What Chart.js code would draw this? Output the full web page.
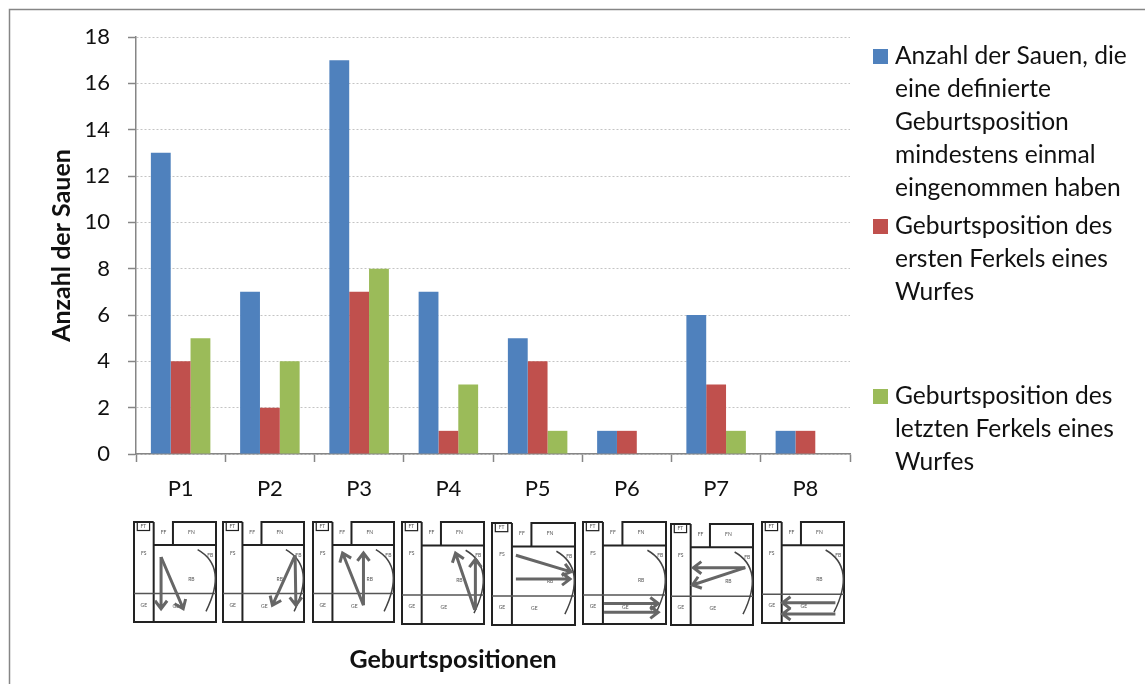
<!DOCTYPE html>
<html>
<head>
  <meta charset="UTF-8">
  <title>Geburtspositionen</title>
  <script src="https://cdn.jsdelivr.net/npm/chart.js@4"></script>
  <style>
    html, body { margin: 0; padding: 0; background: #fff; overflow: hidden; }
    canvas { display: block; }
  </style>
</head>
<body>
<canvas id="myChart" width="1145" height="684"></canvas>
<script>
  var categories = ["P1", "P2", "P3", "P4", "P5", "P6", "P7", "P8"];
  var sauenGesamt = [13, 7, 17, 7, 5, 1, 6, 1];
  var ersterFerkel = [4, 2, 7, 1, 4, 1, 3, 1];
  var letzterFerkel = [5, 4, 8, 3, 1, 0, 1, 0];

  var seriesNames = [
    "Anzahl der Sauen, die eine definierte Geburtsposition mindestens einmal eingenommen haben",
    "Geburtsposition des ersten Ferkels eines Wurfes",
    "Geburtsposition des letzten Ferkels eines Wurfes"
  ];
  var seriesColors = ["#4F81BD", "#C0504D", "#9BBB59"];

  // legend text wrapped by hand, one list per series, with the y of each line
  var legendLines = [
    ["Anzahl der Sauen, die", "eine definierte", "Geburtsposition", "mindestens einmal", "eingenommen haben"],
    ["Geburtsposition des", "ersten Ferkels eines", "Wurfes"],
    ["Geburtsposition des", "letzten Ferkels eines", "Wurfes"]
  ];
  var legendTops = [56, 226, 396];
  var legendStep = 33;

  // small floor plans under the axis: box in px, arrows as fractions of the box
  var planBoxes = [
    [134, 522, 82, 100], [223, 522, 81, 100], [313, 522, 81, 100], [402, 522, 82, 102],
    [492, 523, 83, 102], [583, 522, 83, 102], [671, 524, 82, 101], [762, 522, 82, 101]
  ];
  var planArrows = [
    [[.33, .35, .33, .867], [.33, .35, .60, .867]],
    [[.89, .333, .61, .833], [.89, .333, .90, .833]],
    [[.623, .833, .365, .31], [.623, .833, .623, .31]],
    [[.887, .86, .653, .306], [.895, .86, .895, .365]],
    [[.288, .316, .952, .479], [.288, .55, .94, .55]],
    [[.254, .80, .907, .80], [.254, .885, .907, .885]],
    [[.906, .432, .273, .432], [.906, .432, .261, .604]],
    [[.895, .80, .25, .80], [.895, .91, .25, .91]]
  ];
  var planLabels = [
    ["FT", .115, .04], ["FF", .36, .105], ["FN", .70, .105], ["FS", .12, .31], ["FB", .93, .33],
    ["RB", .70, .57], ["GE", .12, .83], ["GE", .51, .84]
  ];

  function drawArrow(ctx, x1, y1, x2, y2) {
    var a = Math.atan2(y2 - y1, x2 - x1);
    ctx.beginPath();
    ctx.moveTo(x1, y1);
    ctx.lineTo(x2, y2);
    ctx.moveTo(x2 - 10 * Math.cos(a - 0.65), y2 - 10 * Math.sin(a - 0.65));
    ctx.lineTo(x2, y2);
    ctx.lineTo(x2 - 10 * Math.cos(a + 0.65), y2 - 10 * Math.sin(a + 0.65));
    ctx.stroke();
  }

  function drawPlan(ctx, box, arrows) {
    var x = box[0], y = box[1], w = box[2], h = box[3];
    function px(f) { return x + f * w; }
    function py(f) { return y + f * h; }

    ctx.strokeStyle = "#222";
    ctx.lineWidth = 2;
    ctx.beginPath();
    ctx.moveTo(px(.24), y); ctx.lineTo(x, y); ctx.lineTo(x, y + h); ctx.lineTo(x + w, y + h);
    ctx.lineTo(x + w, py(.23)); ctx.lineTo(px(.24), py(.23));
    ctx.moveTo(px(.24), y); ctx.lineTo(px(.24), y + h);
    ctx.moveTo(px(.475), py(.23)); ctx.lineTo(px(.475), y); ctx.lineTo(x + w, y); ctx.lineTo(x + w, py(.23));
    ctx.stroke();

    ctx.lineWidth = 1.2;
    ctx.strokeRect(px(.04), y, w * .15, h * .085);

    ctx.strokeStyle = "#555";
    ctx.lineWidth = 1.5;
    ctx.beginPath();
    ctx.moveTo(x, py(.715)); ctx.lineTo(x + w, py(.715));
    ctx.stroke();

    ctx.strokeStyle = "#444";
    ctx.beginPath();
    ctx.moveTo(px(.776), py(.277));
    ctx.quadraticCurveTo(px(1.149), py(.45), px(.878), py(.893));
    ctx.stroke();

    ctx.fillStyle = "#555";
    ctx.font = "5px Lato";
    ctx.textAlign = "center";
    ctx.textBaseline = "middle";
    planLabels.forEach(function(l) { ctx.fillText(l[0], px(l[1]), py(l[2])); });

    ctx.strokeStyle = "#666";
    ctx.lineWidth = 3;
    arrows.forEach(function(a) { drawArrow(ctx, px(a[0]), py(a[1]), px(a[2]), py(a[3])); });
  }

  var extras = {
    id: "extras",
    afterDraw: function(chart) {
      var ctx = chart.ctx;
      ctx.save();

      // frame, runs off the page on the right and at the bottom
      ctx.strokeStyle = "#868686";
      ctx.lineWidth = 1.5;
      ctx.beginPath();
      ctx.moveTo(9.5, 684); ctx.lineTo(9.5, 9.5); ctx.lineTo(1145, 9.5);
      ctx.stroke();

      // legend
      ctx.textAlign = "left";
      ctx.textBaseline = "middle";
      ctx.font = "24.6px Lato";
      legendLines.forEach(function(lines, i) {
        ctx.fillStyle = seriesColors[i];
        ctx.fillRect(873, legendTops[i] - 7, 15, 15);
        ctx.fillStyle = "#111";
        lines.forEach(function(t, j) { ctx.fillText(t, 895, legendTops[i] + j * legendStep); });
      });

      // axis title sits left of the axis centre in the original
      ctx.font = "bold 25px Lato";
      ctx.textAlign = "center";
      ctx.fillStyle = "#111";
      ctx.fillText("Geburtspositionen", 453, 660);

      planBoxes.forEach(function(b, i) { drawPlan(ctx, b, planArrows[i]); });
      ctx.restore();
    }
  };

  new Chart(document.getElementById("myChart"), {
    type: "bar",
    plugins: [extras],
    data: {
      labels: categories,
      datasets: [
        { label: seriesNames[0], data: sauenGesamt, backgroundColor: seriesColors[0] },
        { label: seriesNames[1], data: ersterFerkel, backgroundColor: seriesColors[1] },
        { label: seriesNames[2], data: letzterFerkel, backgroundColor: seriesColors[2] }
      ]
    },
    options: {
      responsive: false,
      animation: false,
      layout: { padding: { left: 40, top: 37, right: 295, bottom: 0 } },
      datasets: { bar: { categoryPercentage: 2 / 3, barPercentage: 1 } },
      plugins: { legend: { display: false }, tooltip: { enabled: false } },
      scales: {
        x: {
          afterFit: function(s) { s.height = 230; },
          grid: { offset: true, drawOnChartArea: false, tickLength: 8, tickColor: "#868686", tickWidth: 1.5 },
          border: { color: "#868686", width: 1.5 },
          ticks: { color: "#111", padding: 14, maxRotation: 0, font: { family: "Lato", size: 22 } }
        },
        y: {
          min: 0,
          max: 18,
          afterFit: function(s) { s.width = 96; },
          title: {
            display: true,
            text: "Anzahl der Sauen",
            color: "#111",
            padding: 7,
            font: { family: "Lato", size: 25, weight: "bold" }
          },
          grid: { color: "#c4c4c4", tickLength: 8, tickColor: "#868686", tickWidth: 1.5 },
          border: { color: "#868686", width: 1.5, dash: [2, 2] },
          ticks: { stepSize: 2, color: "#111", padding: 18, font: { family: "Lato", size: 22 } }
        }
      }
    }
  });
</script>
</body>
</html>
